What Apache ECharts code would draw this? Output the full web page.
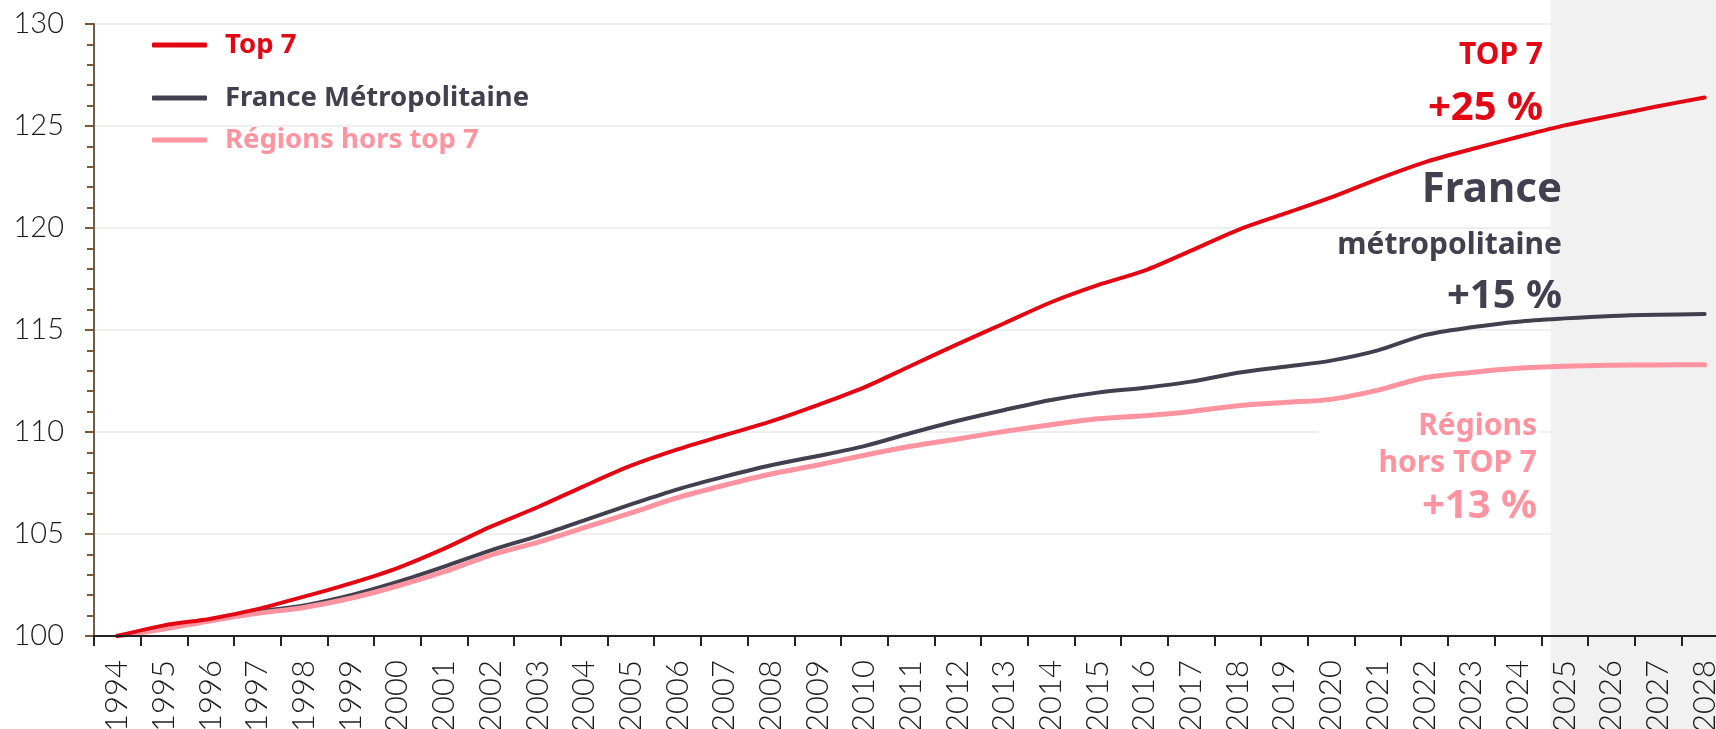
<!DOCTYPE html>
<html>
<head>
<meta charset="utf-8">
<script src="https://cdn.jsdelivr.net/npm/echarts@6/dist/echarts.min.js"></script>
<style>
  html, body { margin: 0; padding: 0; background: #fff; }
  #chart { width: 1716px; height: 729px; }
</style>
</head>
<body>
<div id="chart"></div>
<script>
// années (axe x)
var years = ['1994', '1995', '1996', '1997', '1998', '1999', '2000', '2001', '2002', '2003',
  '2004', '2005', '2006', '2007', '2008', '2009', '2010', '2011', '2012', '2013',
  '2014', '2015', '2016', '2017', '2018', '2019', '2020', '2021', '2022', '2023',
  '2024', '2025', '2026', '2027', '2028'];

// indices base 100 en 1994
var top7 = [100, 100.52, 100.85, 101.32, 101.93, 102.58, 103.33, 104.28, 105.36, 106.31,
  107.35, 108.35, 109.15, 109.84, 110.52, 111.32, 112.19, 113.25, 114.31, 115.33,
  116.36, 117.2, 117.91, 118.89, 119.9, 120.7, 121.5, 122.4, 123.22, 123.86,
  124.46, 125.03, 125.5, 125.97, 126.4];
var france = [100, 100.38, 100.8, 101.2, 101.5, 102.0, 102.65, 103.4, 104.2, 104.9,
  105.67, 106.45, 107.19, 107.81, 108.37, 108.82, 109.31, 109.95, 110.55, 111.08,
  111.57, 111.93, 112.17, 112.47, 112.9, 113.2, 113.5, 114.0, 114.75, 115.13,
  115.41, 115.57, 115.69, 115.75, 115.78];
var regions = [100, 100.34, 100.75, 101.11, 101.4, 101.85, 102.45, 103.15, 103.97, 104.59,
  105.31, 106.03, 106.78, 107.39, 107.94, 108.38, 108.86, 109.3, 109.66, 110.03,
  110.36, 110.65, 110.8, 111.01, 111.29, 111.45, 111.6, 112.05, 112.66, 112.92,
  113.12, 113.22, 113.27, 113.29, 113.3];

var forecastStart = '2025';

var RED = '#e30613', DARK = '#42404f', PINK = '#ff939f';
var BOLD = '"Noto Sans", "DejaVu Sans", sans-serif';
var AXISFONT = 'Lato, "Noto Sans", sans-serif';

// textes de droite : [texte, couleur, taille, x droite, y milieu]
var notes = [
  ['TOP 7', RED, 30, 1543, 55],
  ['+25 %', RED, 40, 1543, 109],
  ['France', DARK, 42, 1562, 190],
  ['métropolitaine', DARK, 30, 1562, 245],
  ['+15 %', DARK, 40, 1562, 297],
  ['Régions', PINK, 30, 1537, 426],
  ['hors TOP 7', PINK, 30, 1537, 463],
  ['+13 %', PINK, 40, 1537, 507]
];

var chart = echarts.init(document.getElementById('chart'), null, { renderer: 'canvas' });

function legendAt(name, color, top) {
  return {
    data: [name],
    left: 147,
    top: top,
    icon: 'roundRect',
    itemWidth: 55,
    itemHeight: 5,
    selectedMode: false,
    textStyle: {
      color: color, fontSize: 27.5, fontWeight: 'bold', fontFamily: BOLD,
      lineHeight: 30, padding: [0, 0, 0, 13]
    }
  };
}

function line(name, data, color, width) {
  return {
    name: name,
    type: 'line',
    data: data,
    symbol: 'none',
    smooth: 0.3,
    z: 2,
    color: color,
    lineStyle: { color: color, width: width, cap: 'round' }
  };
}

chart.setOption({
  animation: false,
  backgroundColor: '#fff',
  grid: { left: 94, right: -12, top: 24, bottom: 93, containLabel: false, outerBoundsMode: 'none' },
  legend: [
    legendAt('Top 7', RED, 25),
    legendAt('France Métropolitaine', DARK, 78),
    legendAt('Régions hors top 7', PINK, 120)
  ],
  xAxis: {
    type: 'category',
    data: years,
    boundaryGap: true,
    z: 3,
    axisLine: { lineStyle: { color: '#222', width: 2 } },
    axisTick: { show: true, length: 10, lineStyle: { color: '#222', width: 2 } },
    axisLabel: {
      rotate: 90, margin: 24, interval: 0,
      color: '#1a1a1a', fontSize: 31, fontWeight: 300, fontFamily: AXISFONT
    },
    splitLine: { show: false }
  },
  yAxis: {
    type: 'value',
    min: 100,
    max: 130,
    interval: 5,
    z: 0,
    axisLine: { show: true, lineStyle: { color: '#7a5a3c', width: 2 } },
    axisTick: { show: true, length: 9, lineStyle: { color: '#7a5a3c', width: 2 } },
    minorTick: { show: true, splitNumber: 5, length: 7, lineStyle: { color: '#7a5a3c', width: 2 } },
    axisLabel: { margin: 30, color: '#1a1a1a', fontSize: 29, fontWeight: 300, fontFamily: AXISFONT },
    splitLine: { show: true, lineStyle: { color: '#efefef', width: 2 } }
  },
  series: [
    line('France Métropolitaine', france, DARK, 4),
    line('Régions hors top 7', regions, PINK, 5),
    line('Top 7', top7, RED, 4)
  ]
});

// zone de projection grisée + annotations
var xa = chart.convertToPixel({ xAxisIndex: 0 }, forecastStart);
var xb = chart.convertToPixel({ xAxisIndex: 0 }, years[years.indexOf(forecastStart) - 1]);
var shadeX = xa - 0.3 * (xa - xb);

var elements = [{
  type: 'rect',
  z: 1,
  silent: true,
  shape: { x: shadeX, y: 0, width: 1716 - shadeX, height: 729 },
  style: { fill: '#f1f1f1' }
}, {
  type: 'rect',
  z: 4,
  silent: true,
  shape: { x: 1319, y: 405, width: 220, height: 123 },
  style: { fill: '#fff' }
}];
notes.forEach(function (n) {
  elements.push({
    type: 'text',
    z: 5,
    silent: true,
    style: {
      text: n[0], fill: n[1], x: n[3], y: n[4],
      align: 'right', verticalAlign: 'middle',
      font: 'bold ' + n[2] + 'px ' + BOLD
    }
  });
});
chart.setOption({ graphic: { elements: elements } });
</script>
</body>
</html>
